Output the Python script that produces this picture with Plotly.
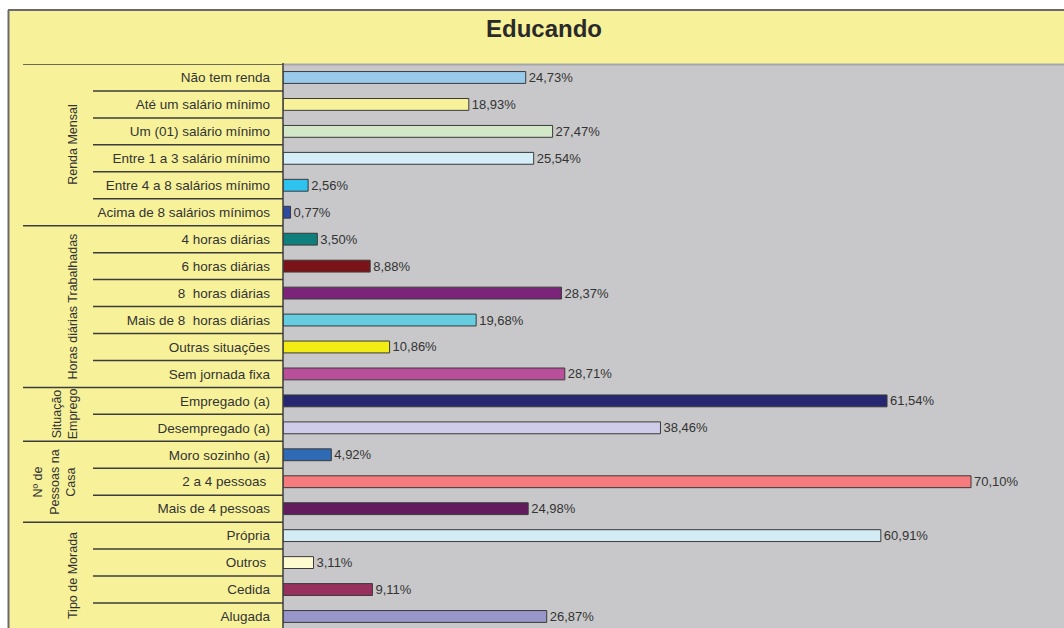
import plotly.graph_objects as go

# ---------------- data ----------------
title_text = "Educando"
categories = [
    "Não tem renda", "Até um salário mínimo", "Um (01) salário mínimo",
    "Entre 1 a 3 salário mínimo", "Entre 4 a 8 salários mínimo", "Acima de 8 salários mínimos",
    "4 horas diárias", "6 horas diárias", "8  horas diárias", "Mais de 8  horas diárias",
    "Outras situações", "Sem jornada fixa",
    "Empregado (a)", "Desempregado (a)",
    "Moro sozinho (a)", "2 a 4 pessoas ", "Mais de 4 pessoas",
    "Própria", "Outros ", "Cedida", "Alugada",
]
values = [24.73, 18.93, 27.47, 25.54, 2.56, 0.77,
          3.50, 8.88, 28.37, 19.68, 10.86, 28.71,
          61.54, 38.46,
          4.92, 70.10, 24.98,
          60.91, 3.11, 9.11, 26.87]
bar_colors = ["#9ACAEB", "#F7F29A", "#D2E8C8", "#D5EDF6", "#2EC3EE", "#2E4BA0",
              "#0E7F7C", "#7B1418", "#7B2479", "#66CDE0", "#F2EC14", "#B94E9A",
              "#262770", "#CFCCEA",
              "#2F6AB5", "#F57B7E", "#621C5E",
              "#D3EBF5", "#FFFBD1", "#98305F", "#9896C8"]
group_names = ["Renda Mensal", "Horas diárias Trabalhadas", "Situação<br>Emprego",
               "Nº de<br>Pessoas na<br>Casa", "Tipo de Morada"]
group_first = [0, 6, 12, 14, 17]
group_last = [5, 11, 13, 16, 20]
group_xpx = [73, 73, 65, 55, 73]

# ---------------- layout geometry (screen pixels) ----------------
W, H = 1064, 628
L, T = 283, 64            # plot area left / top
PW, PH = W - L, H - T
FONT = "Liberation Sans, Arial, sans-serif"
YELLOW = "#F7F29A"


def px(x):
    return (x - L) / PW


def py(y):
    return 1 - (y - T) / PH


n = len(categories)
ypos = list(range(n))
labels = [f"{v:.2f}".replace(".", ",") + "%" for v in values]

fig = go.Figure(go.Bar(
    x=values, y=ypos, orientation="h", width=0.44,
    marker=dict(color=bar_colors, line=dict(color="#3A3A3A", width=1)),
    text=labels, textposition="outside", constraintext="none", cliponaxis=False,
    textfont=dict(family=FONT, size=13, color="#333333"),
    hoverinfo="skip",
))

shapes = []
# white strips outside the frame
shapes.append(dict(type="rect", xref="paper", yref="paper", x0=px(-5), x1=px(W + 5),
                   y0=py(10), y1=py(-5), fillcolor="white", line_width=0, layer="below"))
shapes.append(dict(type="rect", xref="paper", yref="paper", x0=px(-5), x1=px(8),
                   y0=py(H + 5), y1=py(10), fillcolor="white", line_width=0, layer="below"))
# frame lines
shapes.append(dict(type="line", xref="paper", yref="paper", x0=px(8), x1=px(W + 5),
                   y0=py(10), y1=py(10), line=dict(color="#6A6A6A", width=2)))
shapes.append(dict(type="line", xref="paper", yref="paper", x0=px(8.5), x1=px(8.5),
                   y0=py(10), y1=py(H + 5), line=dict(color="#6A6A6A", width=2)))
# plot top gray line
shapes.append(dict(type="line", xref="paper", yref="paper", x0=0, x1=1,
                   y0=py(64.5), y1=py(64.5), line=dict(color="#A6A6A8", width=2)))
# row separators
starts = set(group_first)
for i in range(n):
    yb = i - 0.5
    x0 = px(23) if i in starts else px(93)
    shapes.append(dict(type="line", xref="paper", yref="y", x0=x0, x1=0,
                       y0=yb, y1=yb, line=dict(color="#3C3C3C", width=1.5)))
# left vertical edge
shapes.append(dict(type="line", xref="paper", yref="paper", x0=0, x1=0,
                   y0=py(63), y1=py(H + 5), line=dict(color="#3C3C3C", width=1.5)))

annotations = [dict(text=f"<b>{title_text}</b>", xref="paper", yref="paper",
                    x=px(544), y=py(28), xanchor="center", yanchor="middle",
                    showarrow=False, font=dict(family=FONT, size=24, color="#2A2A2A"))]
for name, a, b, gx in zip(group_names, group_first, group_last, group_xpx):
    annotations.append(dict(text=name, xref="paper", yref="y", x=px(gx), y=(a + b) / 2,
                            xanchor="center", yanchor="middle", textangle=-90,
                            showarrow=False,
                            font=dict(family=FONT, size=12.5, color="#333333")))

fig.update_layout(
    width=W, height=H,
    margin=dict(l=L, r=0, t=T, b=0, pad=0),
    paper_bgcolor=YELLOW, plot_bgcolor="#C8C8CA",
    showlegend=False,
    shapes=shapes, annotations=annotations,
    xaxis=dict(range=[0, PW / 9.815], showgrid=False, zeroline=False,
               showticklabels=False, ticks="", fixedrange=True),
    yaxis=dict(range=[PH / 26.95 - 0.5, -0.5], tickmode="array",
               tickvals=ypos, ticktext=categories, showgrid=False, zeroline=False,
               ticks="", ticklabelstandoff=12,
               tickfont=dict(family=FONT, size=13.5, color="#333333"), fixedrange=True),
)

fig.write_html(
    "out.html",
    config={"displayModeBar": False},
    post_script="document.body.style.margin='0px';document.body.style.overflow='hidden';",
)
